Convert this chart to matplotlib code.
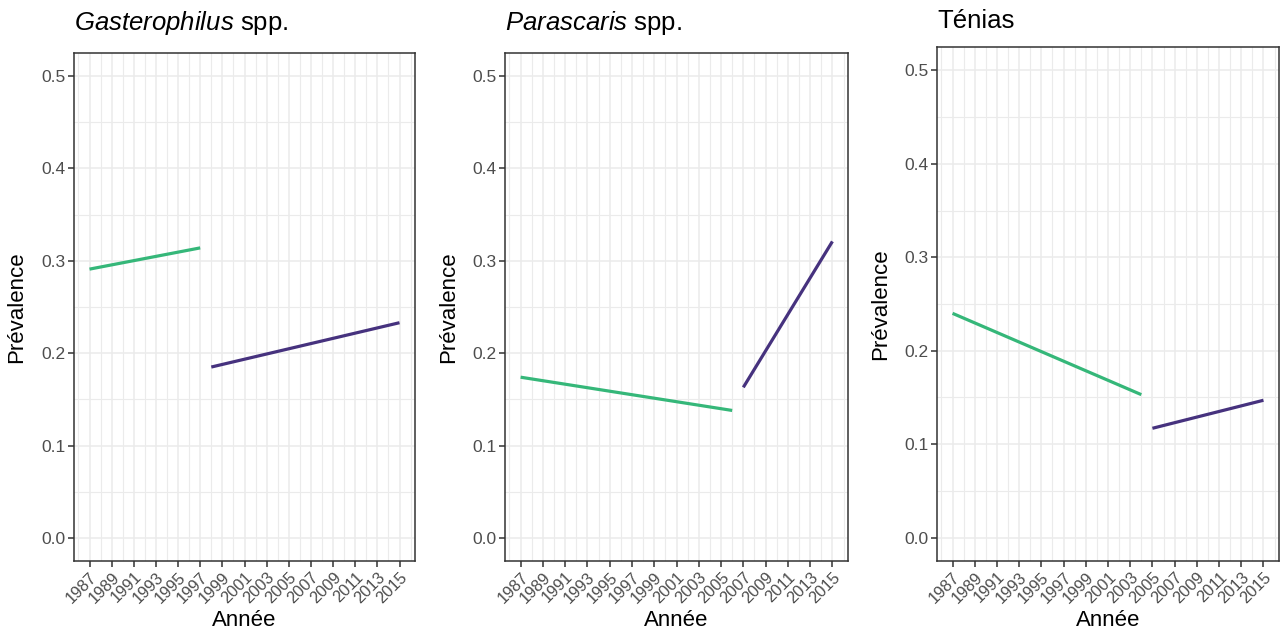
import matplotlib
matplotlib.use("Agg")
import matplotlib.pyplot as plt
import matplotlib.transforms as mtransforms
import numpy as np

plt.rcParams['font.family'] = ['Liberation Sans', 'DejaVu Sans']
plt.rcParams['mathtext.fontset'] = 'custom'
plt.rcParams['mathtext.rm'] = 'Liberation Sans'
plt.rcParams['mathtext.it'] = 'Liberation Sans:italic'

# Data
titles = [r'$\mathit{Gasterophilus}$ spp.', r'$\mathit{Parascaris}$ spp.', 'Ténias']
green_years = [[1987, 1997], [1987, 2006], [1987, 2004]]
green_vals = [[0.291, 0.314], [0.174, 0.138], [0.240, 0.153]]
purple_years = [[1998, 2015], [2007, 2015], [2005, 2015]]
purple_vals = [[0.185, 0.233], [0.163, 0.321], [0.117, 0.147]]
xticks = list(range(1987, 2016, 2))
yticks = [0.0, 0.1, 0.2, 0.3, 0.4, 0.5]

green = '#35B779'
purple = '#46327E'

W, H = 1282, 631
fig = plt.figure(figsize=(W / 100, H / 100), dpi=100)

# panel boxes in pixels: left, right, top, bottom
boxes = [(74, 415, 53, 561), (505, 848, 53, 561), (937, 1279, 47, 561)]
title_y = [30, 30, 28]
ylabel_x = [17, 449, 881]

for i, (l, r, t, b) in enumerate(boxes):
    ax = fig.add_axes([l / W, 1 - b / H, (r - l) / W, (b - t) / H])
    ax.set_xlim(1987 - 1.4, 2015 + 1.4)
    ax.set_ylim(-0.025, 0.525)
    ax.set_xticks(xticks)
    ax.set_xticks(np.arange(1986, 2017, 2), minor=True)
    ax.set_yticks(yticks)
    ax.set_yticks(np.arange(0.05, 0.5, 0.1), minor=True)
    ax.set_xticklabels([str(x) for x in xticks], rotation=45, ha='right',
                       rotation_mode='anchor', fontsize=11.8, color='#4D4D4D')
    ax.set_yticklabels([f'{y:.1f}' for y in yticks], fontsize=12.5, color='#4D4D4D')
    off = mtransforms.ScaledTranslation(12 / 100, -2 / 100, fig.dpi_scale_trans)
    for lab in ax.get_xticklabels():
        lab.set_transform(lab.get_transform() + off)
    ax.grid(which='major', color='#EBEBEB', lw=1.1, zorder=0)
    ax.grid(which='minor', color='#EBEBEB', lw=0.8, zorder=0)
    ax.set_axisbelow(True)
    ax.tick_params(which='major', length=4, width=1.1, color='#333333', pad=2)
    ax.tick_params(which='minor', length=0)
    for s in ax.spines.values():
        s.set_color('#333333')
        s.set_linewidth(1.1)
    ax.plot(green_years[i], green_vals[i], color=green, lw=2.3, solid_capstyle='butt')
    ax.plot(purple_years[i], purple_vals[i], color=purple, lw=2.3, solid_capstyle='butt')
    ax.set_xlabel('Année', fontsize=16)
    ax.set_ylabel('Prévalence', fontsize=16)
    ax.xaxis.set_label_coords(0.5, -(626 - b) / (b - t))
    ax.xaxis.label.set_va('baseline')
    ax.yaxis.set_label_coords((ylabel_x[i] - l) / (r - l), 0.5)
    ax.yaxis.label.set_va('center')
    fig.text(l / W, 1 - title_y[i] / H, titles[i], fontsize=18.5, ha='left', va='baseline')

fig.savefig('out.png', dpi=100)
